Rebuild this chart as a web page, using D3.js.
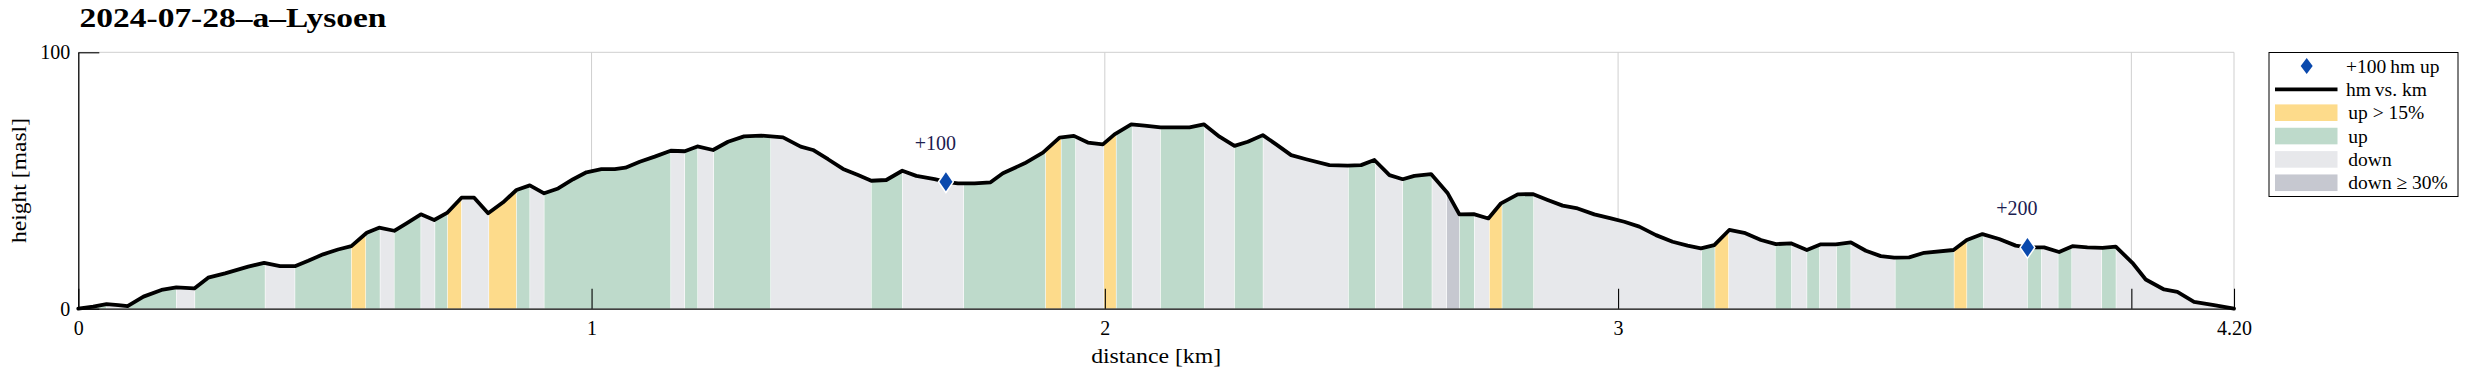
<!DOCTYPE html>
<html>
<head>
<meta charset="utf-8">
<script src="https://cdn.jsdelivr.net/npm/d3@7"></script>
<style>
  html, body { margin: 0; padding: 0; background: #fff; }
  svg { display: block; }
  text { font-family: "Liberation Serif", "DejaVu Serif", serif; fill: #000; }
</style>
</head>
<body>
<script>
// ---------------- data ----------------
const title = "2024-07-28\u2013a\u2013Lysoen";

const distKm = [0.000,0.029,0.055,0.078,0.096,0.127,0.162,0.191,0.226,0.253,0.286,0.331,0.362,0.393,0.422,0.448,0.477,0.506,0.532,0.562,0.586,0.6155,0.6395,0.6674,0.6934,0.7193,0.7466,0.7713,0.7985,0.8277,0.8537,0.8797,0.9076,0.9349,0.9641,0.9900,1.0192,1.0452,1.0660,1.0939,1.1231,1.1543,1.1815,1.2062,1.2367,1.2659,1.2971,1.3308,1.3730,1.4074,1.4314,1.4607,1.4899,1.5191,1.5450,1.5742,1.6054,1.6327,1.6684,1.6904,1.7138,1.7463,1.7774,1.8014,1.8437,1.8794,1.9118,1.9397,1.9670,1.9962,2.0189,2.0514,2.0774,2.1085,2.1650,2.1929,2.2234,2.2526,2.2786,2.3078,2.3338,2.3630,2.3922,2.4376,2.4733,2.4993,2.5252,2.5545,2.5804,2.6031,2.6356,2.6681,2.6908,2.7187,2.7473,2.7719,2.8044,2.8336,2.8628,2.8920,2.9212,2.9537,2.9861,3.0121,3.0413,3.0738,3.1062,3.1354,3.1614,3.1874,3.2166,3.2458,3.2783,3.3075,3.3367,3.3678,3.3951,3.4243,3.4535,3.4827,3.5119,3.5379,3.5671,3.5963,3.6535,3.6794,3.7099,3.7424,3.7748,3.7976,3.8300,3.8592,3.8852,3.9144,3.9436,3.9696,4.0020,4.0280,4.0637,4.0897,4.1221,4.1611,4.2000];

const heightM = [0.0,0.8,1.8,1.4,1.0,4.7,7.3,8.3,7.9,12.1,13.8,16.4,17.9,16.6,16.6,18.7,21.2,23.1,24.4,29.6,31.6,30.4,33.3,36.8,34.6,37.5,43.3,43.3,37.2,41.5,46.3,48.1,45.0,46.9,50.5,53.2,54.4,54.4,55.0,57.3,59.3,61.6,61.4,63.3,61.9,65.1,67.2,67.5,66.8,63.2,61.9,58.3,54.5,52.1,49.9,50.2,53.8,51.8,50.5,49.5,48.9,48.9,49.3,52.8,56.7,60.9,66.7,67.4,64.8,64.1,68.0,71.9,71.4,70.7,70.7,71.9,67.1,63.5,65.1,67.7,64.1,59.9,58.3,56.0,55.8,56.0,58.0,52.1,50.5,51.8,52.5,45.0,36.8,36.9,35.2,41.1,44.6,44.7,42.4,40.2,39.1,36.8,35.2,33.9,32.0,28.7,26.1,24.6,23.5,24.8,30.7,29.6,26.8,25.2,25.5,22.9,25.1,25.1,25.9,22.6,20.5,19.9,20.0,21.8,22.9,26.8,29.1,27.2,24.6,23.9,23.9,22.1,24.4,23.9,23.7,24.2,17.9,11.4,7.5,6.6,2.7,1.4,0.0];

// slope-class strips: start km of each strip and its class
const stripStartKm = [0,0.055,0.096,0.191,0.227,0.364,0.422,0.532,0.560,0.588,0.6155,0.6674,0.6947,0.7193,0.7466,0.7998,0.8537,0.8797,0.9076,1.1543,1.1815,1.2068,1.2380,1.3490,1.5450,1.6054,1.7250,1.8845,1.9150,1.9430,1.9981,2.0222,2.0533,2.1085,2.1942,2.2526,2.3084,2.4746,2.5272,2.5804,2.6375,2.6661,2.6908,2.7200,2.7492,2.7739,2.8355,3.1627,3.1887,3.2153,3.3062,3.3380,3.3678,3.3925,3.4256,3.4535,3.5399,3.6547,3.6794,3.7119,3.7976,3.8248,3.8573,3.8839,3.9423,3.9702];
const stripClass = ["up","down","up","down","up","down","up","steep","up","down","up","down","up","steep","down","steep","up","down","up","down","up","down","up","down","up","down","up","steep","up","down","steep","up","down","up","down","up","down","up","down","up","down","steepdown","up","down","steep","up","down","up","steep","down","up","down","up","down","up","down","up","steep","up","down","up","down","up","down","up","down"];
const routeEndKm = 4.2;

// +100 hm markers
const markerKm = [1.6904, 3.7976];
const markerM = [49.5, 23.9];
const markerLabel = ["+100", "+200"];

// axes
const xTickValues = [0, 1, 2, 3, 4, 4.2];
const xTickLabels = ["0", "1", "2", "3", "", "4.20"];
const yTickValues = [0, 100];

// legend
const legendLabels = ["+100\u2009hm up", "hm\u2009vs. km", "up > 15%", "up", "down", "down \u2265 30%"];
const legendKinds = ["marker", "line", "steep", "up", "down", "steepdown"];

// ---------------- styles ----------------
const colors = { steep: "#fddb8b", up: "#bedacb", down: "#e7e8eb", steepdown: "#c6c8d0" };
const markerColor = "#0a49ad";
const W = 2465, H = 376;
const plot = { left: 78.3, right: 2234, top: 52.3, bottom: 308.7 };

const svg = d3.select("body").append("svg").attr("width", W).attr("height", H);

const x = d3.scaleLinear().domain([0, 4.2]).range([plot.left, plot.right]);
const y = d3.scaleLinear().domain([0, 100]).range([plot.bottom, plot.top]);

const pts = distKm.map((d, i) => ({ km: d, m: heightM[i] }));

// grid
const grid = svg.append("g").attr("stroke", "#cfcfcf").attr("stroke-width", 1);
xTickValues.filter(v => v > 0).forEach(v => {
  grid.append("line").attr("x1", x(v)).attr("x2", x(v)).attr("y1", plot.top).attr("y2", plot.bottom);
});
yTickValues.filter(v => v > 0).forEach(v => {
  grid.append("line").attr("x1", plot.left).attr("x2", plot.right).attr("y1", y(v)).attr("y2", y(v));
});

// clip to area under profile
const area = d3.area().x(d => x(d.km)).y0(y(0)).y1(d => y(d.m));
svg.append("defs").append("clipPath").attr("id", "under")
  .append("path").attr("d", area(pts));

const strips = stripStartKm.map((s, i) => ({
  s, e: i < stripStartKm.length - 1 ? stripStartKm[i + 1] : routeEndKm, c: stripClass[i]
}));
svg.append("g").attr("clip-path", "url(#under)")
  .selectAll("rect").data(strips).join("rect")
  .attr("x", d => x(d.s) + 0.3)
  .attr("width", d => Math.max(0, x(d.e) - x(d.s) - 0.6))
  .attr("y", plot.top)
  .attr("height", plot.bottom - plot.top)
  .attr("fill", d => colors[d.c]);

// profile line
const line = d3.line().x(d => x(d.km)).y(d => y(d.m));
svg.append("path").attr("d", line(pts))
  .attr("fill", "none").attr("stroke", "#000").attr("stroke-width", 3.8)
  .attr("stroke-linejoin", "round").attr("stroke-linecap", "round");

// axes
const xAxis = d3.axisBottom(x).tickValues(xTickValues)
  .tickFormat((d, i) => xTickLabels[i]).tickSizeInner(-20).tickSizeOuter(0).tickPadding(12);
const gx = svg.append("g").attr("transform", `translate(0,${plot.bottom})`).call(xAxis);
gx.select(".domain").attr("stroke", "#000").attr("stroke-width", 1.3);
gx.selectAll(".tick line").attr("stroke", "#000").attr("stroke-width", 1.1);
gx.selectAll(".tick text").attr("font-size", 20).attr("font-family", "Liberation Serif");

const yAxis = d3.axisLeft(y).tickValues(yTickValues)
  .tickSizeInner(-21).tickSizeOuter(0).tickPadding(8);
const gy = svg.append("g").attr("transform", `translate(${plot.left},0)`).call(yAxis);
gy.select(".domain").attr("stroke", "#000").attr("stroke-width", 1.3);
gy.selectAll(".tick line").attr("stroke", "#000").attr("stroke-width", 1.1);
gy.selectAll(".tick text").attr("font-size", 20).attr("font-family", "Liberation Serif");

// axis titles
svg.append("text").attr("x", (plot.left + plot.right) / 2).attr("y", 363)
  .attr("text-anchor", "middle").attr("font-size", 21)
  .attr("textLength", 130).attr("lengthAdjust", "spacingAndGlyphs")
  .text("distance [km]");
svg.append("text").attr("transform", `translate(26,${(plot.top + plot.bottom) / 2}) rotate(-90)`)
  .attr("text-anchor", "middle").attr("font-size", 21)
  .attr("textLength", 125).attr("lengthAdjust", "spacingAndGlyphs")
  .text("height [masl]");

// title
svg.append("text").attr("x", 79.5).attr("y", 26.7)
  .attr("font-size", 27.5).attr("font-weight", "bold")
  .attr("textLength", 307).attr("lengthAdjust", "spacingAndGlyphs")
  .text(title);

// markers
const diamond = (w, h) => `M0,${-h}L${w},0L0,${h}L${-w},0Z`;
markerKm.forEach((k, i) => {
  svg.append("path").attr("d", diamond(6.5, 9.5))
    .attr("transform", `translate(${x(k)},${y(markerM[i])})`)
    .attr("fill", markerColor).attr("stroke", "#fff").attr("stroke-width", 3)
    .attr("paint-order", "stroke").attr("stroke-linejoin", "miter");
  svg.append("text").attr("x", x(k) - 10.5).attr("y", y(markerM[i]) - 32)
    .attr("text-anchor", "middle").attr("font-size", 20)
    .style("fill", "#1b2050")
    .text(markerLabel[i]);
});

// legend
const lg = svg.append("g");
const box = { x: 2269, y: 52.5, w: 189, h: 144 };
lg.append("rect").attr("x", box.x).attr("y", box.y).attr("width", box.w).attr("height", box.h)
  .attr("fill", "#fff").attr("stroke", "#000").attr("stroke-width", 1);
const rowY = i => 66 + i * 23.35;
legendKinds.forEach((k, i) => {
  const cy = rowY(i);
  if (k === "marker") {
    lg.append("path").attr("d", diamond(6, 8)).attr("transform", `translate(2306.7,${cy})`)
      .attr("fill", markerColor);
  } else if (k === "line") {
    lg.append("line").attr("x1", 2275).attr("x2", 2337.5).attr("y1", cy).attr("y2", cy)
      .attr("stroke", "#000").attr("stroke-width", 3.8);
  } else {
    lg.append("rect").attr("x", 2275).attr("y", cy - 8.3).attr("width", 62.5).attr("height", 16.6)
      .attr("fill", colors[k]);
  }
  lg.append("text").attr("x", i < 2 ? 2346 : 2348.3).attr("y", cy + 6.5)
    .attr("font-size", 19.5).text(legendLabels[i]);
});
</script>
</body>
</html>
